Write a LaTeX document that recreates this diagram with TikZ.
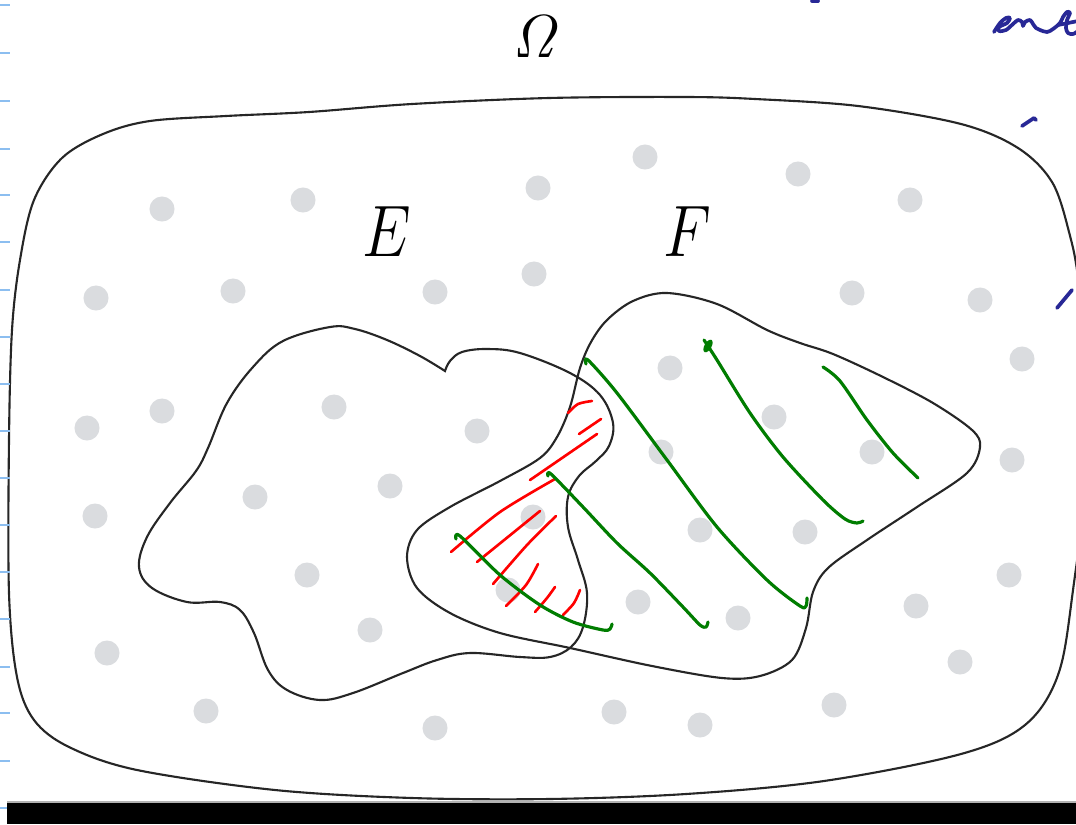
\documentclass[tikz,border=0pt]{standalone}
\usetikzlibrary{calc}
\definecolor{dotc}{RGB}{218,220,223}
\definecolor{tickc}{RGB}{140,190,240}
\definecolor{penblue}{RGB}{40,40,150}
\definecolor{pengreen}{RGB}{0,125,0}
\tikzset{
  outline/.style={line width=0.6pt, black!85},
  redpen/.style={red, line width=0.75pt, line cap=round, line join=round},
  greenpen/.style={pengreen, line width=0.9pt, line cap=round, line join=round},
  bluepen/.style={penblue, line width=1.05pt, line cap=round, line join=round},
  tickmark/.style={tickc, line width=0.6pt},
  lbl/.style={inner sep=0pt}
}
\begin{document}
\begin{tikzpicture}[x=0.01cm, y=-0.01cm]
\useasboundingbox (0,0) rectangle (1076,824);
\clip (0,0) rectangle (1076,824);
\fill[white] (0,0) rectangle (1076,824);

% grey dots
\foreach \p in {(645,157),(798,174),(538,188),(303,200),(162,209),(910,200),
  (534,274),(435,292),(233,291),(96,298),(852,293),(980,300),(1022,359),
  (670,368),(162,411),(334,407),(477,431),(87,428),(774,417),(661,452),
  (872,452),(1012,460),(390,486),(255,497),(95,516),(533,517),(700,530),
  (805,532),(307,575),(508,590),(638,602),(738,618),(1009,575),(916,606),
  (370,630),(107,653),(960,662),(206,711),(435,728),(614,712),(700,725),(834,705)}
  \fill[dotc] \p circle[radius=0.125cm];

% Omega outline
\draw[outline] plot[smooth cycle, tension=0.55] coordinates {
  (9,440) (12,330) (20,260) (34,200) (62,158) (103,134) (150,121) (226,116)
  (309,112) (412,104) (549,98) (686,97) (755,99) (858,106) (961,124)
  (1018,148) (1052,182) (1069,232) (1079,285) (1092,420) (1073,590)
  (1058,675) (1025,725) (961,754) (824,781) (686,794) (549,799) (412,798)
  (275,790) (137,770) (69,747) (34,720) (17,677) (9,593)};

% E outline
\draw[outline] plot[smooth, tension=0.6] coordinates {
  (445,371) (450,361) (462,352) (487,349) (520,353) (570,373) (600,395)
  (613,423) (609,446) (596,461) (579,476) (568,497) (568,527) (578,560)
  (587,593) (583,627) (571,647) (550,657) (520,657) (470,653) (437,660)
  (403,673) (353,693) (320,700) (287,690) (268,670) (254,633) (240,610)
  (220,602) (187,602) (152,588) (139,567) (147,537) (170,503) (196,471)
  (208,448) (227,403) (253,367) (283,341) (330,327) (355,329) (387,340)
  (420,356) (445,371)} -- cycle;

% F outline
\draw[outline] plot[smooth cycle, tension=0.55] coordinates {
  (667,293) (717,304) (767,330) (800,343) (833,354) (883,377) (933,403)
  (972,430) (980,447) (967,473) (917,507) (867,540) (828,568) (813,592)
  (806,628) (792,660) (760,676) (722,678) (652,666) (570,648) (500,633)
  (450,613) (417,588) (407,557) (417,530) (450,507) (500,481) (540,458)
  (557,437) (570,407) (580,368) (591,342) (607,320) (633,301)};

% labels
\node[lbl] (omega) at (537,37) {\fontsize{17}{19}\selectfont$\mathit{\Omega}$};
\node[lbl] (labE) at (387,232) {\scalebox{0.85}[1]{\fontsize{20}{22}\selectfont$E$}};
\node[lbl] (labF) at (687,232) {\scalebox{0.85}[1]{\fontsize{20}{22}\selectfont$F$}};

% red hatching
\draw[redpen] plot[smooth] coordinates {(568,413) (578,404) (592,401)};
\draw[redpen] (579,434) -- (601,419);
\draw[redpen] (530,480) -- (597,434);
\draw[redpen] plot[smooth] coordinates {(451,552) (500,512) (555,479)};
\draw[redpen] (477,562) -- (540,511);
\draw[redpen] plot[smooth] coordinates {(493,584) (527,545) (556,516)};
\draw[redpen] plot[smooth] coordinates {(506,606) (526,585) (538,564)};
\draw[redpen] plot[smooth] coordinates {(535,612) (547,598) (555,587)};
\draw[redpen] plot[smooth] coordinates {(563,615) (574,603) (580,590)};

% green hatching
\draw[greenpen] plot[smooth] coordinates {(456,539) (460,536) (500,575) (540,605) (573,622) (603,630) (610,629) (612,624)};
\draw[greenpen] plot[smooth] coordinates {(548,476) (551,474) (583,507) (617,543) (650,573) (683,607) (700,625) (706,627) (708,622)};
\draw[greenpen] plot[smooth] coordinates {(586,364) (588,360) (617,393) (667,460) (717,527) (767,580) (800,606) (806,606) (807,598)};
\draw[greenpen] plot[smooth] coordinates {(704,340) (717,360) (750,413) (783,457) (823,500) (845,519) (857,523) (863,521)};
\fill[pengreen] (708,346) ellipse[x radius=0.035cm, y radius=0.07cm, rotate=-30];
\draw[greenpen] plot[smooth] coordinates {(823,367) (840,381) (867,420) (893,453) (918,478)};

% blue handwriting
\draw[bluepen] plot[smooth, tension=0.55] coordinates {
  (994,32) (1000,23) (1006,18) (1010,18) (1007,23) (999,27) (999,31)
  (1006,30) (1013,24) (1018,20) (1022,22) (1023,26) (1025,22) (1030,20)
  (1033,24) (1036,28) (1040,30) (1047,32) (1053,29) (1060,23) (1063,17)
  (1067,12) (1070,13) (1067,20) (1066,28) (1068,33) (1073,34) (1078,31)};
\draw[bluepen] (1058,25) -- (1078,21);
\draw[bluepen] (1022,126) -- (1034,118) -- (1036,120);
\draw[bluepen] (1057,308) -- (1072,290);
\draw[bluepen] (812,1) -- (818,1);

% left margin ticks
\foreach \ty in {5,53,101,149,195,242,290,337,384,431,478,525,572,619,667,713,761,808}
  \draw[tickmark] (0,\ty) -- (10,\ty);

% bottom black bar
\fill[black] (7,803) rectangle (1076,824);
\draw[gray!60, line width=0.3pt] (7,802) -- (1076,802);
\end{tikzpicture}
\end{document}
